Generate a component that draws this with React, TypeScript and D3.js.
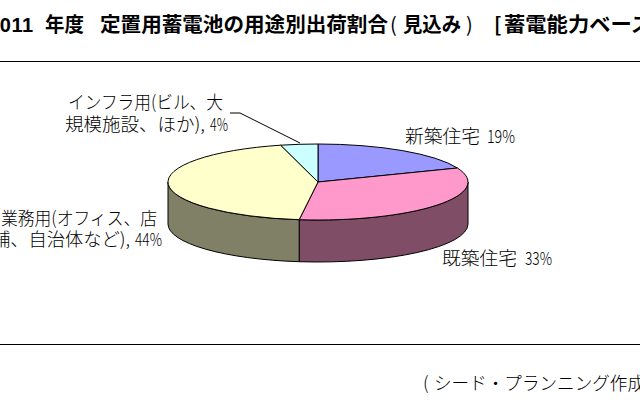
import React from 'react'
import * as d3 from 'd3'

const width = 640
const height = 416

const categories = ['新築住宅', '既築住宅', '業務用', 'インフラ用']
const shares = [19, 33, 44, 4]
const topColors = ['#9999ff', '#ff99cc', '#ffffcc', '#ccffff']
const sideColors = ['#4d4d80', '#804d66', '#808066', '#668080']

const jpFont = '"Noto Sans CJK JP", sans-serif'

const cx = 318
const cy = 182
const rx = 150
const ry = 38
const depth = 42

// pie angles run clockwise from 12 o'clock, flattened here to fake the 3D tilt
const px = (a: number) => cx + rx * Math.sin(a)
const py = (a: number) => cy - ry * Math.cos(a)

function topPath(a0: number, a1: number) {
  const large = a1 - a0 > Math.PI ? 1 : 0
  return `M${cx},${cy}L${px(a0)},${py(a0)}A${rx},${ry} 0 ${large} 1 ${px(a1)},${py(a1)}Z`
}

function sidePath(a0: number, a1: number) {
  // only the part of the rim facing the viewer
  const s = Math.max(a0, Math.PI / 2)
  const e = Math.min(a1, (3 * Math.PI) / 2)
  if (e <= s) return null
  return `M${px(s)},${py(s)}A${rx},${ry} 0 0 1 ${px(e)},${py(e)}L${px(e)},${py(e) + depth}A${rx},${ry} 0 0 0 ${px(s)},${py(s) + depth}Z`
}

export default function App() {
  const slices = d3.pie<number>().sort(null)(shares)

  return (
    <svg
      width={width}
      height={height}
      style={{ position: 'absolute', left: 0, top: 0, background: '#fff', display: 'block' }}
      fontFamily={jpFont}
    >
      <g fontSize={20} fontWeight={700} fill="#000">
        <text x={-12} y={32} fontFamily="Liberation Sans" letterSpacing={0.6}>2011</text>
        <text x={45} y={32} textLength={39} lengthAdjust="spacingAndGlyphs">年度</text>
        <text x={100} y={32} textLength={288} lengthAdjust="spacingAndGlyphs">定置用蓄電池の用途別出荷割合</text>
        <text x={390} y={32} fontWeight={400}>(</text>
        <text x={403} y={32} textLength={58} lengthAdjust="spacingAndGlyphs">見込み</text>
        <text x={466} y={32} fontWeight={400}>)</text>
        <text x={494} y={32}>[</text>
        <text x={504} y={32} textLength={148} lengthAdjust="spacingAndGlyphs">蓄電能力ベース</text>
      </g>
      <line x1={0} x2={width} y1={61.5} y2={61.5} stroke="#000" />
      <line x1={0} x2={width} y1={344.5} y2={344.5} stroke="#000" />

      {slices.map((d, i) => {
        const side = sidePath(d.startAngle, d.endAngle)
        return side ? (
          <path key={categories[i]} d={side} fill={sideColors[i]} stroke="#000" strokeWidth={1} />
        ) : null
      })}
      {slices.map((d, i) => (
        <path
          key={categories[i]}
          d={topPath(d.startAngle, d.endAngle)}
          fill={topColors[i]}
          stroke="#000"
          strokeWidth={1}
        />
      ))}

      <polyline points="230,113 240,113 300,143" fill="none" stroke="#000" strokeWidth={1} />

      <g fontSize={18} fontWeight={300} fill="#000">
        <text x={68} y={109} textLength={155} lengthAdjust="spacingAndGlyphs">インフラ用(ビル、大</text>
        <text x={65} y={131} textLength={140} lengthAdjust="spacingAndGlyphs">規模施設、ほか),</text>
        <text x={210} y={131} textLength={18} lengthAdjust="spacingAndGlyphs">4%</text>
        <text x={405} y={143} textLength={75} lengthAdjust="spacingAndGlyphs">新築住宅</text>
        <text x={487} y={143} textLength={28} lengthAdjust="spacingAndGlyphs">19%</text>
        <text x={442} y={265} textLength={75} lengthAdjust="spacingAndGlyphs">既築住宅</text>
        <text x={525} y={265} textLength={27} lengthAdjust="spacingAndGlyphs">33%</text>
        <text x={1} y={225} textLength={156} lengthAdjust="spacingAndGlyphs">業務用(オフィス、店</text>
        <text x={-8} y={246} textLength={138} lengthAdjust="spacingAndGlyphs">舗、自治体など),</text>
        <text x={135} y={246} textLength={27} lengthAdjust="spacingAndGlyphs">44%</text>
        <text x={423} y={390}>(</text>
        <text x={434} y={390} textLength={211} lengthAdjust="spacingAndGlyphs">シード・プランニング作成</text>
      </g>
    </svg>
  )
}
